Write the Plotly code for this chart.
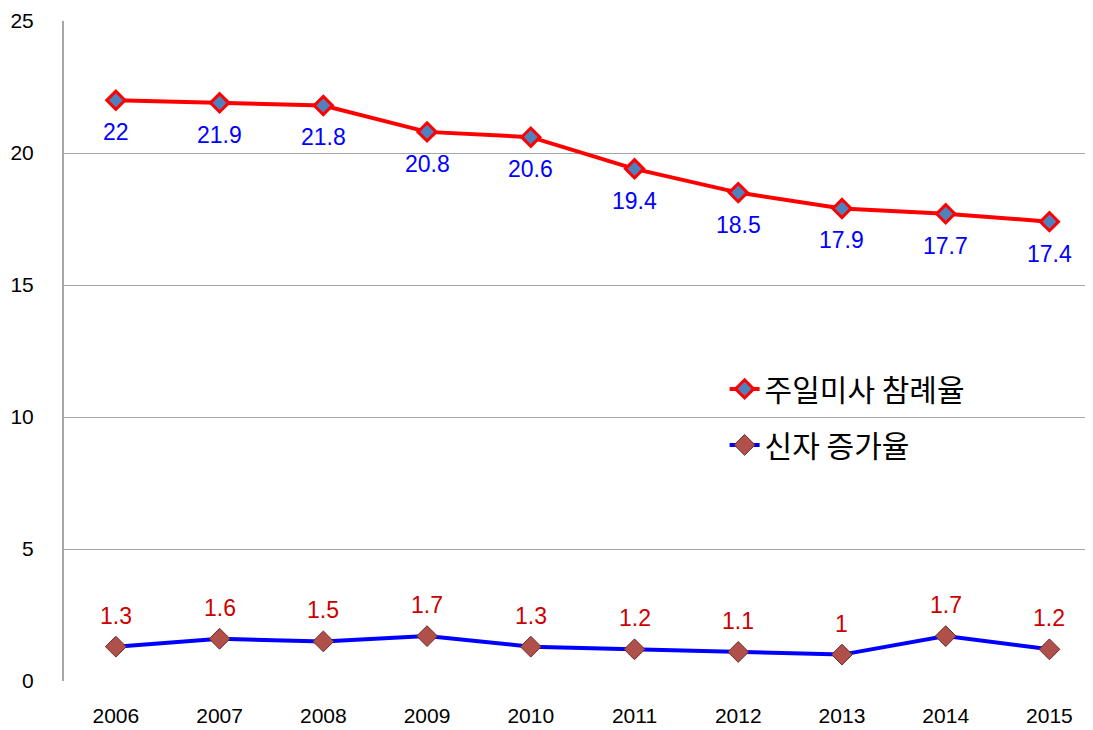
import plotly.graph_objects as go

years = ["2006", "2007", "2008", "2009", "2010", "2011", "2012", "2013", "2014", "2015"]
attendance = [22, 21.9, 21.8, 20.8, 20.6, 19.4, 18.5, 17.9, 17.7, 17.4]
growth = [1.3, 1.6, 1.5, 1.7, 1.3, 1.2, 1.1, 1, 1.7, 1.2]
y_ticks = [0, 5, 10, 15, 20, 25]

name_att = "주일미사 참례율"
name_gro = "신자 증가율"

FONT = "Liberation Sans"

fig = go.Figure()
fig.add_trace(go.Scatter(
    x=years, y=attendance, name=name_att, mode="lines+markers",
    line=dict(color="#FF0000", width=4),
    marker=dict(symbol="diamond", size=14, color="#4F81BD", line=dict(color="#FF0000", width=3)),
    legendgroup="a",
))
fig.add_trace(go.Scatter(
    x=years, y=growth, name=name_gro, mode="lines+markers",
    line=dict(color="#0000FF", width=4),
    marker=dict(symbol="diamond", size=16, color="#B0504A", line=dict(color="#6B2A26", width=1)),
    legendgroup="b",
))

annots = []
for i, v in enumerate(attendance):
    annots.append(dict(x=i, y=v, xref="x", yref="y", text=str(v), showarrow=False, yshift=-32,
                       font=dict(color="#0000FF", size=23, family=FONT)))
for i, v in enumerate(growth):
    annots.append(dict(x=i, y=v, xref="x", yref="y", text=str(v), showarrow=False, yshift=31,
                       font=dict(color="#CC0000", size=23, family=FONT)))

# page body has an 8px margin; compensate so the plot sits where the reference has it
fig.update_layout(
    width=1085, height=722,
    margin=dict(l=56, r=0, t=13, b=49),
    plot_bgcolor="white", paper_bgcolor="white",
    annotations=annots,
    showlegend=True,
    legend=dict(x=0.642, y=0.482, xanchor="left", yanchor="top",
                font=dict(family="Noto Sans CJK KR", size=30, color="black"),
                bgcolor="rgba(0,0,0,0)", tracegroupgap=14, traceorder="grouped",
                itemwidth=30),
    xaxis=dict(type="category", range=[-0.5, 9.42], showgrid=False, showline=False,
               ticks="", automargin=False, ticklabelstandoff=20,
               tickfont=dict(family=FONT, size=21, color="black")),
    yaxis=dict(range=[0, 25], tickvals=y_ticks, showgrid=True, gridcolor="#A6A6A6", gridwidth=1,
               showline=True, linecolor="#A6A6A6", linewidth=2, zeroline=False, automargin=False,
               ticklabelstandoff=24,
               tickfont=dict(family=FONT, size=21, color="black"), ticks=""),
)

fig.write_html("out.html")
